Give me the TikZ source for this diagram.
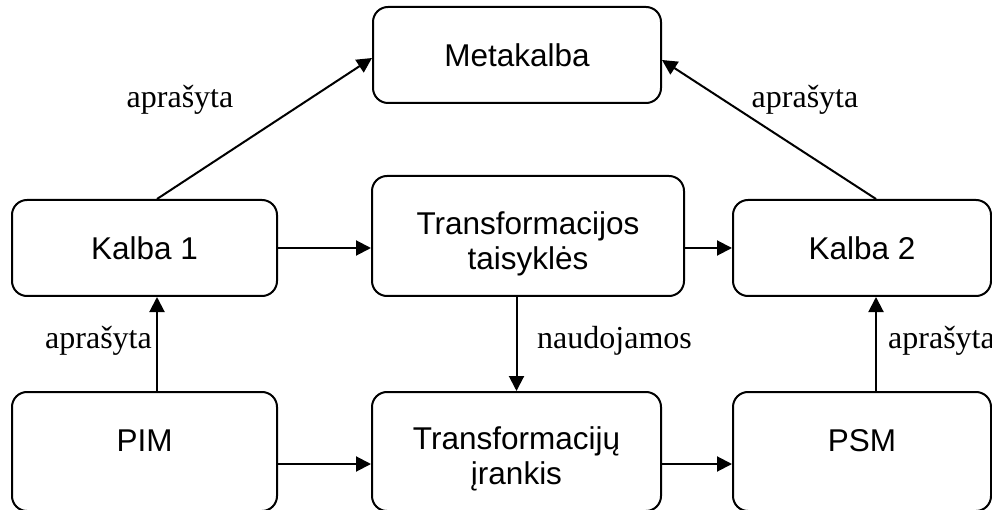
\documentclass[tikz,border=0pt]{standalone}
\usepackage{fontspec}
\setmainfont{Liberation Serif}
\setsansfont{Liberation Sans}
\usetikzlibrary{positioning}
\usetikzlibrary{shapes.geometric, arrows.meta}

\begin{document}
\begin{tikzpicture}[x=1pt, y=-1pt]
\tikzstyle{block} = [rectangle, draw, line width=2pt, rounded corners=15pt, align=center, inner sep=0pt, font=\sffamily\fontsize{31.5}{35}\selectfont]
\tikzstyle{arrow} = [line width=2pt, -{Triangle[length=15pt, width=15pt]}]
\tikzstyle{lbl} = [inner sep=0pt, font=\fontsize{32}{36}\selectfont]

\useasboundingbox (0,0) rectangle (992,510);

\node (meta) [block, minimum width=288pt, minimum height=96pt] at (517,55) {Metakalba};
\node (kalba1) [block, minimum width=265pt, minimum height=96pt] at (144.5,248) {Kalba 1};
\node (trules) [block, minimum width=312pt, minimum height=120pt] at (528,236) {\rule{0pt}{38pt}Transformacijos\\taisyklės};
\node (kalba2) [block, minimum width=258pt, minimum height=96pt] at (862,248) {Kalba 2};
\node (pim) [block, minimum width=265pt, minimum height=119pt, text depth=21pt] at (144.5,451.5) {PIM};
\node (tool) [block, minimum width=289pt, minimum height=119pt] at (516.5,451.5) {\rule{0pt}{38pt}Transformacijų\\įrankis};
\node (psm) [block, minimum width=258pt, minimum height=119pt, text depth=21pt] at (862,451.5) {PSM};

\coordinate (pimout) at ([yshift=-12.5pt]pim.east);
\coordinate (toolout) at ([yshift=-12.5pt]tool.east);

\draw [arrow] ([xshift=12.5pt]kalba1.north) -- ([yshift=-3pt]meta.west);
\draw [arrow] ([xshift=14pt]kalba2.north) -- ([yshift=-5pt]meta.east);
\draw [arrow] (kalba1.east) -- (kalba1.east -| trules.west);
\draw [arrow] (trules.east |- kalba2.west) -- (kalba2.west);
\draw [arrow] (tool.north |- trules.south) -- (tool.north);
\draw [arrow] (pimout) -- (pimout -| tool.west);
\draw [arrow] (toolout) -- (toolout -| psm.west);
\draw [arrow] ([xshift=12.5pt]pim.north) -- ([xshift=12.5pt]kalba1.south);
\draw [arrow] ([xshift=14pt]psm.north) -- ([xshift=14pt]kalba2.south);

\node (lbl1) [lbl, anchor=base] at (180,108) {aprašyta};
\node (lbl2) [lbl, anchor=base] at (805,108) {aprašyta};
\node (lbl3) [lbl, anchor=base east] at (152,348) {aprašyta};
\node (lbl4) [lbl, anchor=base west] at (537,348) {naudojamos};
\node (lbl5) [lbl, anchor=base west] at (888,348) {aprašyta};
\end{tikzpicture}
\end{document}
